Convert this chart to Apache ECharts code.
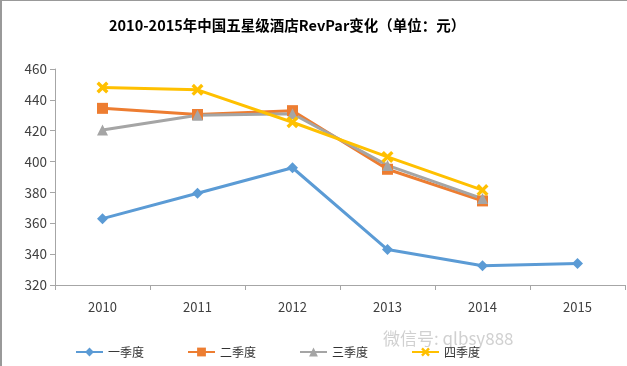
<!DOCTYPE html>
<html><head><meta charset="utf-8">
<script src="https://cdn.jsdelivr.net/npm/echarts@6/dist/echarts.min.js"></script>
<style>html,body{margin:0;padding:0;background:#fff}#c{width:627px;height:366px}</style>
</head><body><div id="c"></div>
<script>
const categories = ['2010','2011','2012','2013','2014','2015'];
const seriesNames = ['一季度','二季度','三季度','四季度'];
const q1 = [363, 379.5, 396, 343, 332.5, 334];
const q2 = [434.5, 430.5, 433, 395, 374.5, null];
const q3 = [420.5, 430, 431, 397.5, 376, null];
const q4 = [448, 446.5, 425.5, 403, 381.5, null];
const yTicks = {min: 320, max: 460, interval: 20};
const colors = ['#5B9BD5','#ED7D31','#A5A5A5','#FFC000'];
const symbols = ['diamond','rect','triangle','path://M2,0 L5,3 L8,0 L10,2 L7,5 L10,8 L8,10 L5,7 L2,10 L0,8 L3,5 L0,2 Z'];
const sizes = [11, 11, 11, 12];
const data = [q1,q2,q3,q4];
const font = '"Microsoft YaHei","Noto Sans CJK SC","Noto Sans",sans-serif';
const chart = echarts.init(document.getElementById('c'));
chart.setOption({
  animation:false,
  title:{text:'2010-2015年中国五星级酒店RevPar变化（单位：元）', left:104, top:13,
    textStyle:{fontSize:14.5, fontWeight:'bold', color:'#000', fontFamily:font}},
  grid:{left:55, right:2, top:69, bottom:81},
  legend:{left:70, top:341, itemWidth:27, itemHeight:11, itemGap:43,
    textStyle:{fontSize:12, color:'#333', fontFamily:font},
    data: seriesNames},
  xAxis:{type:'category', data:categories, boundaryGap:true,
    axisLine:{lineStyle:{color:'#A6A6A6'}},
    axisTick:{show:true, length:5, lineStyle:{color:'#A6A6A6'}},
    axisLabel:{fontSize:13, color:'#404040', margin:16, fontFamily:font}},
  yAxis:{type:'value', min:yTicks.min, max:yTicks.max, interval:yTicks.interval,
    axisLine:{show:true, lineStyle:{color:'#A6A6A6'}},
    axisTick:{show:true, length:5, lineStyle:{color:'#A6A6A6'}},
    splitLine:{show:false},
    axisLabel:{fontSize:13.5, color:'#404040', margin:8, fontFamily:font}},
  graphic:[
    {type:'rect', shape:{x:0,y:0,width:627,height:1}, style:{fill:'#999'}},
    {type:'rect', shape:{x:0,y:0,width:2,height:366}, style:{fill:'#999'}},
    {type:'text', left:383, top:330, style:{text:'微信号: qlbsy888', fontSize:17, fill:'rgba(170,170,170,0.55)', fontFamily:font}}
  ],
  series: seriesNames.map((n,i)=>({
    name:n, type:'line', data:data[i], symbol:symbols[i], symbolSize:sizes[i],
    showAllSymbol:true, connectNulls:false,
    lineStyle:{width:3, color:colors[i]}, itemStyle:{color:colors[i]}
  }))
});
</script></body></html>
